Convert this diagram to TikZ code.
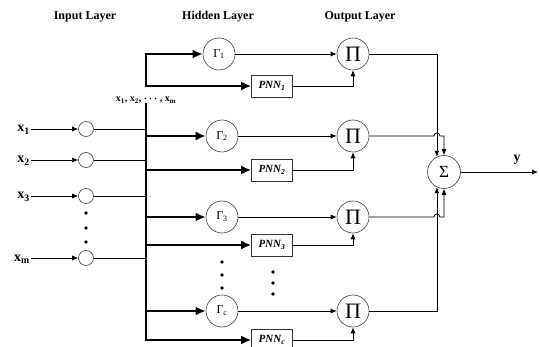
\documentclass[tikz,border=0pt]{standalone}
\usepackage{fontspec}
\setmainfont{Liberation Serif}
\usetikzlibrary{arrows.meta,calc}
\tikzset{
  layertitle/.style={font=\fontsize{12}{14}\selectfont\bfseries},
  inlabel/.style={font=\fontsize{14}{16}\selectfont\bfseries,inner sep=1pt},
  buslabel/.style={font=\fontsize{10}{12}\selectfont\bfseries,inner sep=1pt},
  inneuron/.style={draw=black!75,circle,line width=0.6pt,minimum size=15pt,inner sep=0pt},
  gammanode/.style={draw=black!75,circle,line width=0.6pt,minimum size=32pt,
                    inner sep=0pt,font=\fontsize{12}{14}\selectfont},
  pnnbox/.style={draw=black!80,line width=0.6pt,minimum width=41pt,minimum height=22pt,
                 inner sep=0pt,font=\fontsize{11}{13}\selectfont\bfseries\itshape},
  prodnode/.style={gammanode,font=\fontsize{22}{24}\selectfont},
  sumnode/.style={gammanode,minimum size=33pt,font=\fontsize{17}{19}\selectfont},
  thinarr/.style={-{Latex[length=6pt,width=5pt]},line width=0.8pt},
  thinline/.style={line width=0.8pt},
  thickarr/.style={-{Latex[length=10pt,width=9pt]},line width=2.4pt},
  bus/.style={line width=2.8pt,line cap=rect}
}
\begin{document}
\begin{tikzpicture}[x=1pt,y=-1pt]
  \useasboundingbox (0,0) rectangle (540,347);

  % layer titles
  \node[layertitle] (tin)  at (85,17)  {Input Layer};
  \node[layertitle] (thid) at (218,17) {Hidden Layer};
  \node[layertitle] (tout) at (360,17) {Output Layer};

  % input layer
  \node[inneuron] (i1) at (86,129) {};
  \node[inneuron] (i2) at (86,160) {};
  \node[inneuron] (i3) at (86,196) {};
  \node[inneuron] (im) at (86,258) {};
  \node[inlabel,anchor=base east] (l1) at (31,132) {x\textsubscript{1}};
  \node[inlabel,anchor=base east] (l2) at (31,163) {x\textsubscript{2}};
  \node[inlabel,anchor=base east] (l3) at (31,199) {x\textsubscript{3}};
  \node[inlabel,anchor=base east] (lm) at (31,261) {x\textsubscript{m}};
  \foreach \a/\b in {l1/i1,l2/i2,l3/i3,lm/im}
    \draw[thinarr] (\a.east |- \b) -- (\b);
  \foreach \yy in {213,228,242}
    \fill (86,\yy) circle (1.8);

  % bus
  \node[buslabel] (buslab) at (146,100)
    {x\textsubscript{1}, x\textsubscript{2}, {\boldmath$\cdots$} , x\textsubscript{m}};

  % hidden layer
  \node[gammanode] (g1) at (219,54)  {Γ\textsubscript{1}};
  \node[gammanode] (g2) at (222,136) {Γ\textsubscript{2}};
  \node[gammanode] (g3) at (222,217) {Γ\textsubscript{3}};
  \node[gammanode] (gc) at (222,311) {Γ\textsubscript{c}};
  \node[pnnbox] (n1) at (272,86)  {PNN\textsubscript{1}};
  \node[pnnbox] (n2) at (272,170) {PNN\textsubscript{2}};
  \node[pnnbox] (n3) at (272,245) {PNN\textsubscript{3}};
  \node[pnnbox] (nc) at (272,340) {PNN\textsubscript{c}};
  \foreach \yy in {262,275,288}
    \fill (222,\yy) circle (1.8);
  \foreach \yy in {272,283,294}
    \fill (273,\yy) circle (1.8);

  \draw[bus] (g1 -| buslab) -- (n1 -| buslab);
  \draw[bus] (buslab.south) -- (nc -| buslab);
  \foreach \a in {i1,i2,i3,im}
    \draw[thinline] (\a) -- (\a -| buslab);
  \foreach \a in {g1,n1,g2,n2,g3,n3,gc,nc}
    \draw[thickarr] (\a -| buslab) -- (\a);

  % output layer
  \node[prodnode] (p1) at (353,54)  {Π};
  \node[prodnode] (p2) at (353,136) {Π};
  \node[prodnode] (p3) at (353,217) {Π};
  \node[prodnode] (pc) at (353,311) {Π};
  \node[sumnode] (s) at (444,172) {Σ};
  \foreach \a/\b in {g1/p1,g2/p2,g3/p3,gc/pc}
    \draw[thinarr] (\a) -- (\b);
  \foreach \a/\b in {n1/p1,n2/p2,n3/p3,nc/pc}
    \draw[thinarr] (\a) -| (\b);

  \draw[thinarr] (p1) -| (s.115);
  \draw[thinarr] (p2) -- ($(p2 -| s.115)+(-3,0)$) arc[start angle=180,end angle=360,radius=3] -| (s.north);
  \draw[thinarr] (p3) -- ($(p3 -| s.245)+(-3,0)$) arc[start angle=180,end angle=360,radius=3] -| (s.south);
  \draw[thinarr] (pc) -| (s.245);

  % output
  \coordinate (yend) at (538,172);
  \draw[thinarr] (s) -- (yend);
  \node[inlabel] (ylab) at (517,160) {y};
\end{tikzpicture}
\end{document}
